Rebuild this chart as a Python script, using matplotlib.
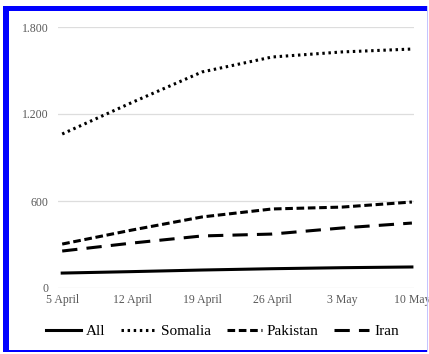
import matplotlib.pyplot as plt
from matplotlib.patches import Rectangle

weeks = ["5 April", "12 April", "19 April", "26 April", "3 May", "10 May"]
all_cases = [103, 113, 124, 133, 140, 145]
somalia = [1062, 1280, 1490, 1593, 1628, 1648]
pakistan = [303, 400, 490, 545, 558, 593]
iran = [255, 310, 359, 372, 414, 448]

plt.rcParams['font.family'] = ['Liberation Serif', 'DejaVu Serif']

fig = plt.figure(figsize=(4.29, 3.54), dpi=100)
W, H = 429, 354
ax = fig.add_axes([58 / W, 1 - 288 / H, (414 - 58) / W, (288 - 27) / H])

x = range(len(weeks))
ax.plot(x, all_cases, color='black', lw=2.2, label='All')
ax.plot(x, somalia, color='black', lw=2.2, ls=(0, (0.8, 1.2)), label='Somalia')
ax.plot(x, pakistan, color='black', lw=2.2, ls=(0, (2.5, 1.2)), label='Pakistan')
ax.plot(x, iran, color='black', lw=2.2, ls=(0, (5, 3)), label='Iran')

ax.set_xlim(-0.06, 5.03)
ax.set_ylim(0, 1800)
ax.set_yticks([0, 600, 1200, 1800])
ax.set_yticklabels(['0', '600', '1.200', '1.800'])
ax.set_xticks(list(x))
ax.set_xticklabels(weeks)
ax.tick_params(length=0, labelsize=8.5, colors='#595959')
ax.tick_params(axis='y', pad=7)
ax.tick_params(axis='x', pad=4)
ax.grid(axis='y', color='#dddddd', lw=0.9)
ax.set_axisbelow(True)
for s in ax.spines.values():
    s.set_visible(False)

fig.legend(loc='center', bbox_to_anchor=(0.518, 1 - 331 / H), ncol=4, frameon=False,
           fontsize=11, handlelength=2.3, handletextpad=0.3, columnspacing=1.05)

# blue frame: heavy top/left, thin bottom, faint right edge
blue = '#0000ff'
frame = [
    ((3, 6), 425, 5, blue),
    ((3, 6), 6, 346, blue),
    ((3, 350), 425, 2, blue),
    ((426.5, 6), 1, 346, '#c4c4ff'),
]
for (fx, fy), fw, fh, c in frame:
    fig.patches.append(Rectangle((fx / W, 1 - (fy + fh) / H), fw / W, fh / H,
                                 transform=fig.transFigure, color=c, lw=0, zorder=10))

fig.savefig('out.png', dpi=100)
